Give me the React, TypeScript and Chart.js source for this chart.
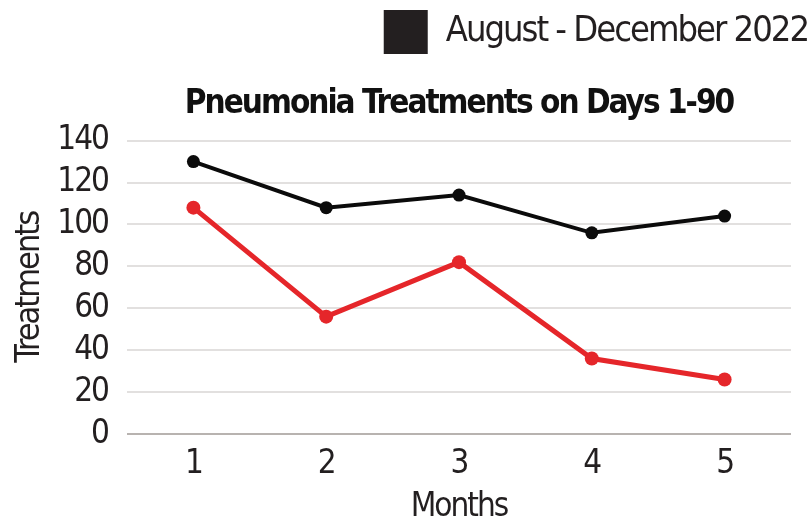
import React, { useEffect, useRef } from "react";
import { Chart, registerables } from "chart.js";

Chart.register(...registerables);

const months = ["1", "2", "3", "4", "5"];
const augDec2022 = [130, 108, 114, 96, 104];
const otherSeries = [108, 56, 82, 36, 26];
const yTicks = [0, 20, 40, 60, 80, 100, 120, 140];

const FONT = "'DejaVu Sans Condensed', 'DejaVu Sans', sans-serif";

const tightText = {
  id: "tightText",
  beforeUpdate(chart: any) {
    chart.ctx.letterSpacing = "-2px";
  },
  beforeDraw(chart: any) {
    chart.ctx.letterSpacing = "-2px";
  },
};

export default function App() {
  const ref = useRef<HTMLCanvasElement | null>(null);
  useEffect(() => {
    document.body.style.margin = "0";
    const ctx = ref.current!;
    const chart = new Chart(ctx, {
      type: "line",
      plugins: [tightText],
      data: {
        labels: months,
        datasets: [
          {
            label: "August - December 2022",
            data: augDec2022,
            borderColor: "#0b0b0b",
            backgroundColor: "#231f20",
            pointBackgroundColor: "#0b0b0b",
            borderWidth: 4,
            pointRadius: 6.5,
            pointBorderWidth: 0,
            yAxisID: "y",
          },
          {
            label: "Other",
            data: otherSeries,
            borderColor: "#e5262a",
            backgroundColor: "#e5262a",
            pointBackgroundColor: "#e5262a",
            borderWidth: 5,
            pointRadius: 7,
            pointBorderWidth: 0,
            yAxisID: "y",
          },
        ],
      },
      options: {
        animation: false,
        responsive: false,
        maintainAspectRatio: false,
        layout: { padding: { left: 10, right: 0, top: 8, bottom: 0 } },
        plugins: {
          legend: {
            align: "end",
            weight: 3000,
            labels: {
              filter: (item: any) => item.datasetIndex === 0,
              generateLabels: (c: any) =>
                Chart.defaults.plugins.legend.labels.generateLabels(c).map((l: any) => ({
                  ...l,
                  fillStyle: "#231f20",
                  strokeStyle: "#231f20",
                  lineWidth: 0,
                })),
              boxWidth: 44,
              boxHeight: 44,
              color: "#231f20",
              font: { family: FONT, size: 36 },
              padding: 2,
            },
          } as any,
          title: {
            display: true,
            fullSize: false,
            text: "Pneumonia Treatments on Days 1-90",
            color: "#111",
            font: { family: FONT, size: 33, weight: "bold" },
            padding: { top: 21, bottom: 16 },
          },
          tooltip: { enabled: false },
        },
        scales: {
          x: {
            offset: true,
            grid: { display: false },
            border: { display: false },
            ticks: { color: "#231f20", font: { family: FONT, size: 33 }, padding: 3, maxRotation: 0, autoSkip: false },
            title: {
              display: true,
              text: "Months",
              color: "#231f20",
              font: { family: FONT, size: 33, lineHeight: 1 },
              padding: { top: 0, bottom: -5 },
            },
            afterFit: (s: any) => {
              s.height = 85;
            },
          },
          y: {
            min: 0,
            max: 140,
            afterBuildTicks: (axis: any) => {
              axis.ticks = yTicks.map((v) => ({ value: v }));
            },
            grid: {
              color: (c: any) => (c.tick && c.tick.value === 0 ? "#b8b3b0" : "#e2e0df"),
              lineWidth: 2,
              drawTicks: false,
            },
            border: { display: false },
            ticks: { color: "#231f20", font: { family: FONT, size: 33 }, padding: 19, autoSkip: false },
            title: {
              display: true,
              text: "Treatments",
              color: "#231f20",
              font: { family: FONT, size: 34 },
              padding: { top: 0, bottom: 7 },
            },
            afterFit: (s: any) => {
              s.width = 117;
            },
          },
          yRight: {
            position: "right",
            display: true,
            grid: { display: false },
            border: { display: false },
            ticks: { display: false },
            afterFit: (s: any) => {
              s.width = 19;
            },
          },
        },
      } as any,
    });
    return () => chart.destroy();
  }, []);
  return <canvas ref={ref} width={810} height={519} style={{ display: "block" }} />;
}
